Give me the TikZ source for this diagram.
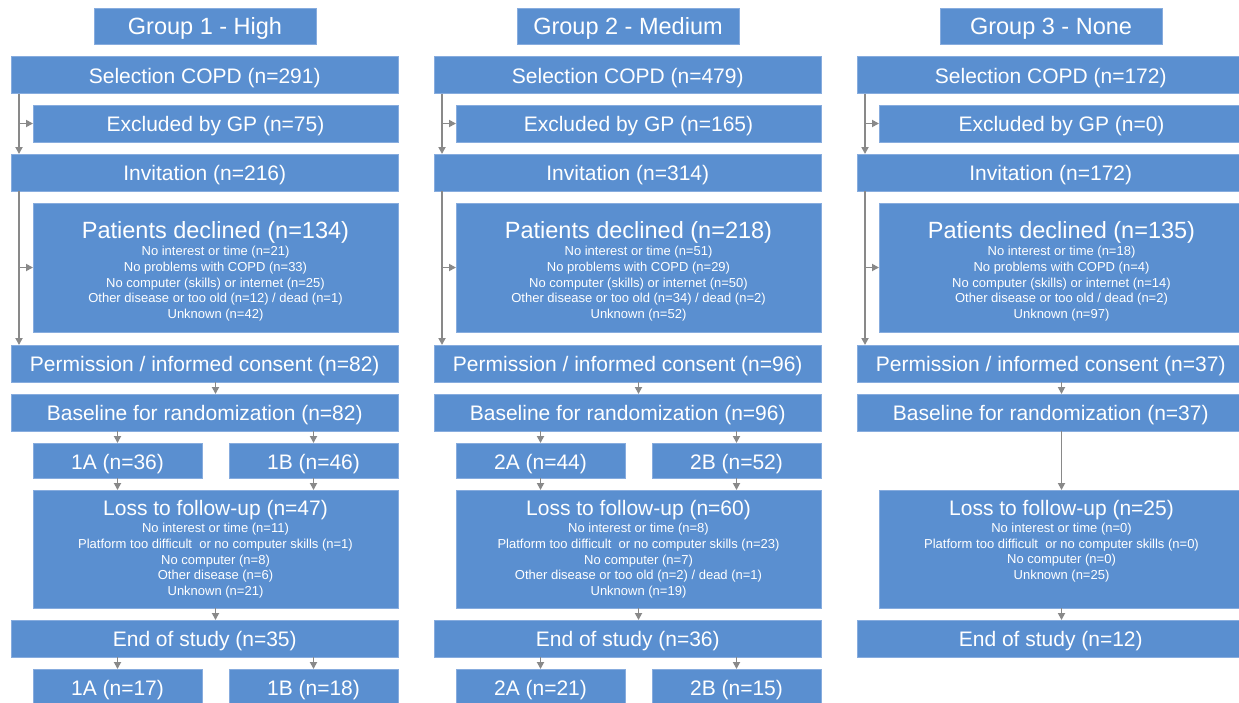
\documentclass[tikz,border=0pt]{standalone}
\usepackage{fontspec}
\setmainfont{Liberation Sans}
\usetikzlibrary{arrows.meta}
\definecolor{boxblue}{RGB}{90,143,208}
\definecolor{boxedge}{RGB}{135,172,222}
\definecolor{arrowgray}{RGB}{137,137,137}
\begin{document}
\begin{tikzpicture}[x=1pt,y=-1pt,
  box/.style={rectangle, fill=boxblue, draw=boxedge, line width=0.8pt, text=white,
    inner sep=0pt, outer sep=0pt, align=center, font=\fontsize{21}{25}\selectfont},
  one/.style={text height=16pt, text depth=0pt},
  wide/.style={box, one, minimum width=386.5pt, minimum height=37pt},
  ind/.style={box, minimum width=365pt, minimum height=37pt},
  half/.style={box, minimum width=169pt, minimum height=35pt, text height=17pt, text depth=0pt},
  head/.style={box, minimum width=222pt, minimum height=36pt, font=\fontsize{23.5}{28}\selectfont,
    text height=16.6pt, text depth=0pt},
  detail/.style={font=\fontsize{13}{15.8}\selectfont, text depth=0pt},
  conn/.style={draw=arrowgray, line width=1.8pt, -{Triangle[length=7pt,width=7pt]}},
]
\useasboundingbox (0,0) rectangle (1239,702);
\clip (0,0) rectangle (1239,702);
\fill[white] (0,0) rectangle (1239,702);
\newcommand{\bigt}[1]{{\fontsize{23.5}{28}\selectfont #1}}
\newcommand{\medt}[1]{{\fontsize{21}{25}\selectfont #1}}

% ---------------- Column 1 ----------------
\node[head] (c1h) at (205,26) {Group 1 - High};
\node[wide] (c1sel) at (204.75,75) {Selection COPD (n=291)};
\node[ind, one] (c1exc) at (215.5,123.5) {Excluded by GP (n=75)};
\node[wide] (c1inv) at (204.75,172.5) {Invitation (n=216)};
\node[ind, minimum height=129pt, detail, text height=102.4pt] (c1dec) at (215.5,267.5) {\bigt{Patients declined (n=134)}\\[1pt]
  No interest or time (n=21)\\ No problems with COPD (n=33)\\ No computer (skills) or internet (n=25)\\
  Other disease or too old (n=12) / dead (n=1)\\ Unknown (n=42)};
\node[wide] (c1perm) at (204.75,363.5) {Permission / informed consent (n=82)};
\node[wide] (c1base) at (204.75,412.5) {Baseline for randomization (n=82)};
\node[half] (c1a) at (117.5,460.5) {1A (n=36)};
\node[half] (c1b) at (313.5,460.5) {1B (n=46)};
\node[ind, minimum height=118pt, detail, text height=93.4pt] (c1loss) at (215.5,549) {\medt{Loss to follow-up (n=47)}\\[1pt]
  No interest or time (n=11)\\ Platform too difficult\ \ or no computer skills (n=1)\\ No computer (n=8)\\
  Other disease (n=6)\\ Unknown (n=21)};
\node[wide] (c1end) at (204.75,638.5) {End of study (n=35)};
\node[half, minimum height=36pt, text height=16pt] (c1fa) at (117.5,687) {1A (n=17)};
\node[half, minimum height=36pt, text height=16pt] (c1fb) at (313.5,687) {1B (n=18)};
\coordinate (c1v) at (19,0);
\draw[conn] (c1v |- c1sel.south) -- (c1v |- c1inv.north);
\draw[conn] (c1v |- c1exc.west) -- (c1exc.west);
\draw[conn] (c1v |- c1inv.south) -- (c1v |- c1perm.north);
\draw[conn] (c1v |- c1dec.west) -- (c1dec.west);
\draw[conn] (c1dec.center |- c1perm.south) -- (c1dec.center |- c1base.north);
\draw[conn] (c1a |- c1base.south) -- (c1a.north);
\draw[conn] (c1b |- c1base.south) -- (c1b.north);
\draw[conn] (c1a.south) -- (c1a |- c1loss.north);
\draw[conn] (c1b.south) -- (c1b |- c1loss.north);
\draw[conn] (c1loss.south) -- (c1loss.center |- c1end.north);
\draw[conn] (c1fa |- c1end.south) -- (c1fa.north);
\draw[conn] (c1fb |- c1end.south) -- (c1fb.north);

% ---------------- Column 2 ----------------
\begin{scope}[xshift=423pt]
\node[head] (c2h) at (205,26) {Group 2 - Medium};
\node[wide] (c2sel) at (204.75,75) {Selection COPD (n=479)};
\node[ind, one] (c2exc) at (215.5,123.5) {Excluded by GP (n=165)};
\node[wide] (c2inv) at (204.75,172.5) {Invitation (n=314)};
\node[ind, minimum height=129pt, detail, text height=102.4pt] (c2dec) at (215.5,267.5) {\bigt{Patients declined (n=218)}\\[1pt]
  No interest or time (n=51)\\ No problems with COPD (n=29)\\ No computer (skills) or internet (n=50)\\
  Other disease or too old (n=34) / dead (n=2)\\ Unknown (n=52)};
\node[wide] (c2perm) at (204.75,363.5) {Permission / informed consent (n=96)};
\node[wide] (c2base) at (204.75,412.5) {Baseline for randomization (n=96)};
\node[half] (c2a) at (117.5,460.5) {2A (n=44)};
\node[half] (c2b) at (313.5,460.5) {2B (n=52)};
\node[ind, minimum height=118pt, detail, text height=93.4pt] (c2loss) at (215.5,549) {\medt{Loss to follow-up (n=60)}\\[1pt]
  No interest or time (n=8)\\ Platform too difficult\ \ or no computer skills (n=23)\\ No computer (n=7)\\
  Other disease or too old (n=2) / dead (n=1)\\ Unknown (n=19)};
\node[wide] (c2end) at (204.75,638.5) {End of study (n=36)};
\node[half, minimum height=36pt, text height=16pt] (c2fa) at (117.5,687) {2A (n=21)};
\node[half, minimum height=36pt, text height=16pt] (c2fb) at (313.5,687) {2B (n=15)};
\coordinate (c2v) at (19,0);
\draw[conn] (c2v |- c2sel.south) -- (c2v |- c2inv.north);
\draw[conn] (c2v |- c2exc.west) -- (c2exc.west);
\draw[conn] (c2v |- c2inv.south) -- (c2v |- c2perm.north);
\draw[conn] (c2v |- c2dec.west) -- (c2dec.west);
\draw[conn] (c2dec.center |- c2perm.south) -- (c2dec.center |- c2base.north);
\draw[conn] (c2a |- c2base.south) -- (c2a.north);
\draw[conn] (c2b |- c2base.south) -- (c2b.north);
\draw[conn] (c2a.south) -- (c2a |- c2loss.north);
\draw[conn] (c2b.south) -- (c2b |- c2loss.north);
\draw[conn] (c2loss.south) -- (c2loss.center |- c2end.north);
\draw[conn] (c2fa |- c2end.south) -- (c2fa.north);
\draw[conn] (c2fb |- c2end.south) -- (c2fb.north);
\end{scope}

% ---------------- Column 3 ----------------
\begin{scope}[xshift=846pt]
\node[head] (c3h) at (205,26) {Group 3 - None};
\node[wide] (c3sel) at (204.75,75) {Selection COPD (n=172)};
\node[ind, one] (c3exc) at (215.5,123.5) {Excluded by GP (n=0)};
\node[wide] (c3inv) at (204.75,172.5) {Invitation (n=172)};
\node[ind, minimum height=129pt, detail, text height=102.4pt] (c3dec) at (215.5,267.5) {\bigt{Patients declined (n=135)}\\[1pt]
  No interest or time (n=18)\\ No problems with COPD (n=4)\\ No computer (skills) or internet (n=14)\\
  Other disease or too old / dead (n=2)\\ Unknown (n=97)};
\node[wide] (c3perm) at (204.75,363.5) {Permission / informed consent (n=37)};
\node[wide] (c3base) at (204.75,412.5) {Baseline for randomization (n=37)};
\node[ind, minimum height=118pt, detail, text height=61.4pt] (c3loss) at (215.5,549) {\medt{Loss to follow-up (n=25)}\\[1pt]
  No interest or time (n=0)\\ Platform too difficult\ \ or no computer skills (n=0)\\ No computer (n=0)\\
  Unknown (n=25)};
\node[wide] (c3end) at (204.75,638.5) {End of study (n=12)};
\coordinate (c3v) at (19,0);
\draw[conn] (c3v |- c3sel.south) -- (c3v |- c3inv.north);
\draw[conn] (c3v |- c3exc.west) -- (c3exc.west);
\draw[conn] (c3v |- c3inv.south) -- (c3v |- c3perm.north);
\draw[conn] (c3v |- c3dec.west) -- (c3dec.west);
\draw[conn] (c3dec.center |- c3perm.south) -- (c3dec.center |- c3base.north);
\draw[conn] (c3loss.center |- c3base.south) -- (c3loss.north);
\draw[conn] (c3loss.south) -- (c3loss.center |- c3end.north);
\end{scope}
\end{tikzpicture}
\end{document}
